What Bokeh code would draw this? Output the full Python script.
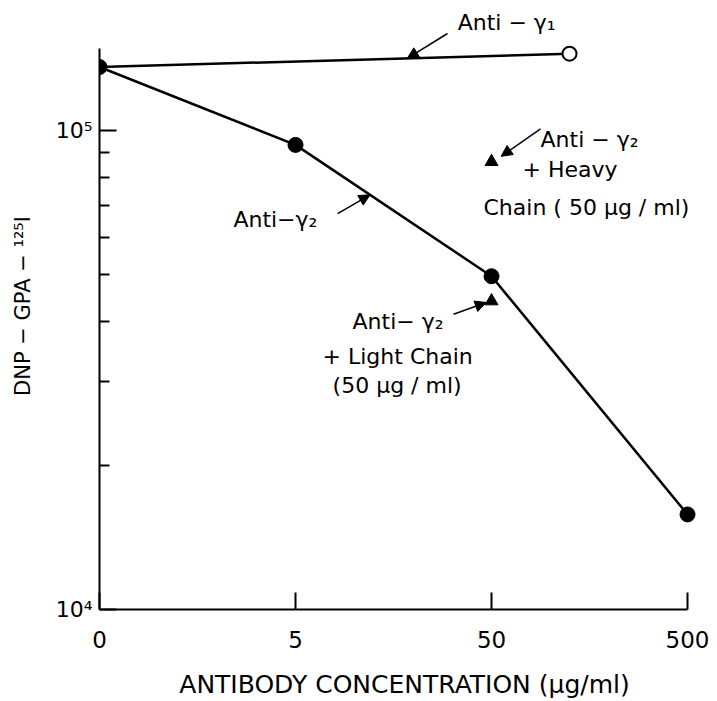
import math
from bokeh.plotting import figure
from bokeh.models import FixedTicker, Label, Arrow, NormalHead, Range1d
from bokeh.embed import file_html
from bokeh.resources import INLINE

# ---------------- data ----------------
conc = [0, 5, 50, 500]                      # antibody concentration (ug/ml)
conc_labels = ["0", "5", "50", "500"]
anti_g2 = [1.36e5, 9.35e4, 4.97e4, 1.58e4]  # Anti-gamma2
anti_g1_conc = [0, 125]
anti_g1 = [1.36e5, 1.45e5]                  # Anti-gamma1
heavy_conc = [50]
heavy = [8.62e4]                            # Anti-gamma2 + heavy chain
light_conc = [50]
light = [4.41e4]                            # Anti-gamma2 + light chain
y_major = [1e4, 1e5]
y_major_labels = ["10⁴", "10⁵"]
y_minor = [2e4, 3e4, 4e4, 5e4, 6e4, 7e4, 8e4, 9e4]

ZERO_POS = 0.5   # where "0" sits on the logarithmic concentration axis


def xpos(values):
    return [ZERO_POS if v == 0 else v for v in values]


def on_line(xs, ys, xq):
    """y value on a log-log polyline at x = xq."""
    lx = [math.log10(v) for v in xpos(xs)]
    ly = [math.log10(v) for v in ys]
    q = math.log10(xq)
    for i in range(len(lx) - 1):
        if lx[i] <= q <= lx[i + 1]:
            t = (q - lx[i]) / (lx[i + 1] - lx[i])
            return 10 ** (ly[i] + t * (ly[i + 1] - ly[i]))
    return ys[-1]


FONT = "DejaVu Sans"

p = figure(width=717, height=701, x_axis_type="log", y_axis_type="log",
           x_range=Range1d(0.5, 711), y_range=Range1d(1e4, 1.855e5),
           output_backend="svg", toolbar_location=None,
           min_border_left=99, min_border_right=0, min_border_top=2, min_border_bottom=89)
p.outline_line_color = None
p.grid.visible = False
p.background_fill_color = "white"

# ---- axes ----
xt = xpos(conc)
p.xaxis.ticker = FixedTicker(ticks=xt)
p.xaxis.major_label_overrides = {t: l for t, l in zip(xt, conc_labels)}
p.xaxis.bounds = (ZERO_POS, conc[-1])
p.xaxis.major_tick_in = 17
p.xaxis.major_tick_out = 0
p.xaxis.minor_tick_line_color = None
p.xaxis.major_label_standoff = 21
p.xaxis.major_label_text_font = FONT
p.xaxis.major_label_text_font_size = "23px"
p.xaxis.axis_label = "ANTIBODY  CONCENTRATION (μg/ml)"
p.xaxis.axis_label_text_font = FONT
p.xaxis.axis_label_text_font_size = "25px"
p.xaxis.axis_label_text_font_style = "normal"
p.xaxis.axis_label_standoff = 19

p.yaxis.ticker = FixedTicker(ticks=y_major, minor_ticks=y_minor)
p.yaxis.major_label_overrides = {t: l for t, l in zip(y_major, y_major_labels)}
p.yaxis.bounds = (1e4, 1.49e5)
p.yaxis.major_tick_in = 17
p.yaxis.major_tick_out = 0
p.yaxis.minor_tick_in = 10
p.yaxis.minor_tick_out = 0
p.yaxis.major_label_standoff = 7
p.yaxis.major_label_text_font = FONT
p.yaxis.major_label_text_font_size = "22px"
p.yaxis.axis_label = "DNP − GPA − ¹²⁵I"
p.yaxis.axis_label_text_font = FONT
p.yaxis.axis_label_text_font_size = "21px"
p.yaxis.axis_label_text_font_style = "normal"
p.yaxis.axis_label_standoff = 18

for ax in (p.xaxis, p.yaxis):
    ax.axis_line_width = 2
    ax.axis_line_color = "black"
    ax.major_tick_line_width = 2
    ax.minor_tick_line_width = 2
    ax.major_tick_line_color = "black"
    ax.major_label_text_color = "black"
    ax.axis_label_text_color = "black"

# ---- data glyphs ----
p.line(xpos(anti_g1_conc), anti_g1, line_width=2.5, line_color="black")
p.line(xpos(conc), anti_g2, line_width=2.5, line_color="black")
p.scatter(xpos(conc), anti_g2, size=15, fill_color="black", line_color="black")
p.scatter(xpos(anti_g1_conc[1:]), anti_g1[1:], size=14, fill_color="white",
          line_color="black", line_width=2)
p.scatter(xpos(heavy_conc), heavy, marker="triangle", size=13,
          fill_color="black", line_color="black")
p.scatter(xpos(light_conc), light, marker="triangle", size=13,
          fill_color="black", line_color="black")


# ---- annotations ----
def lab(x, y, text):
    p.add_layout(Label(x=x, y=y, text=text, text_font=FONT, text_font_size="22px",
                       text_baseline="middle", text_align="left", text_color="black"))


def arrow(x0, y0, x1, y1):
    p.add_layout(Arrow(end=NormalHead(size=11, fill_color="black", line_color="black"),
                       x_start=x0, y_start=y0, x_end=x1, y_end=y1,
                       line_width=1.5, line_color="black"))


lab(33.6, 1.685e5, "Anti − γ₁")
arrow(29.8, 1.598e5, 18.6, on_line(anti_g1_conc, anti_g1, 18.6))

lab(2.41, 6.53e4, "Anti−γ₂")
arrow(8.2, 6.72e4, 12.0, on_line(conc, anti_g2, 12.0))

lab(88.9, 9.58e4, "Anti − γ₂")
lab(72.0, 8.30e4, "+ Heavy")
lab(45.5, 6.92e4, "Chain ( 50 μg / ml)")
arrow(88.9, 1.01e5, 56.0, 8.85e4)

lab(9.77, 3.99e4, "Anti− γ₂")
lab(6.87, 3.37e4, "+ Light  Chain")
lab(7.73, 2.94e4, "(50 μg / ml)")
arrow(32.0, 4.14e4, 47.0, 4.38e4)

open("out.html", "w").write(file_html(p, INLINE))
